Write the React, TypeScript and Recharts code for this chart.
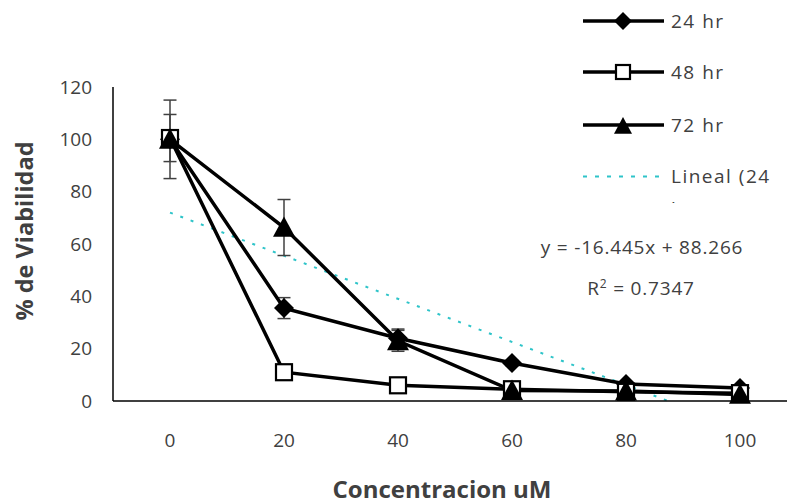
import React from "react";
import { LineChart, Line, XAxis, YAxis, ErrorBar } from "recharts";

const categories = ["0", "20", "40", "60", "80", "100"];
const yTicks = [0, 20, 40, 60, 80, 100, 120];
const h24 = [100, 35.5, 24, 14.5, 6.5, 5];
const h48 = [100.5, 11, 6, 4.5, 3.5, 3];
const h72 = [100, 66.3, 23, 4, 3.8, 2.5];
const err24 = [15, 4, 3.5, 1, 0.5, 0.5];
const err48 = [9, 1, 1.5, 0.5, 0.5, 0.5];
const err72 = [3, 10.7, 4, 0.5, 0.5, 0.5];
const trendX = [0, 4.37];
const trendY = [72, 0];
const seriesNames = ["24 hr", "48 hr", "72 hr", "Lineal (24 hr)"];
const equationText = "y = -16.445x + 88.266";
const r2Value = "0.7347";

const data = categories.map((c, i) => ({
  x: i,
  h24: h24[i],
  h48: h48[i],
  h72: h72[i],
  e24: err24[i],
  e48: err48[i],
  e72: err72[i],
}));
const trendData = trendX.map((x, i) => ({ x, t: trendY[i] }));

const FONT = "'Open Sans', 'Noto Sans', sans-serif";
const TEXT = "#404040";
const TEAL = "#2EC4C9";

const Diamond = (p: any) => {
  const { cx, cy } = p;
  if (cx == null || cy == null) return null;
  const r = p.size ?? 10;
  return (
    <polygon
      points={`${cx},${cy - r} ${cx + r},${cy} ${cx},${cy + r} ${cx - r},${cy}`}
      fill="#000"
    />
  );
};
const Square = (p: any) => {
  const { cx, cy } = p;
  if (cx == null || cy == null) return null;
  const s = p.size ?? 16;
  return (
    <rect x={cx - s / 2} y={cy - s / 2} width={s} height={s} fill="#fff" stroke="#000" strokeWidth={2.2} />
  );
};
const Triangle = (p: any) => {
  const { cx, cy } = p;
  if (cx == null || cy == null) return null;
  const w = p.size ?? 11;
  return (
    <polygon
      points={`${cx},${cy - w} ${cx + w},${cy + w * 0.85} ${cx - w},${cy + w * 0.85}`}
      fill="#000"
    />
  );
};

const legendText: React.CSSProperties = {
  position: "absolute",
  left: 88,
  top: 0,
  fontFamily: FONT,
  fontSize: 19,
  letterSpacing: 1.5,
  color: TEXT,
};

const LegendRow = ({ top, marker, label }: any) => (
  <div style={{ position: "absolute", left: 583, top: top - 15, height: 30, width: 204 }}>
    <svg width={82} height={30} style={{ position: "absolute", left: 0, top: 0 }}>
      <line x1={0} y1={15} x2={81} y2={15} stroke="#000" strokeWidth={3.5} />
      {marker === "diamond" && <Diamond cx={40} cy={15} size={9} />}
      {marker === "square" && <Square cx={40} cy={15} size={14} />}
      {marker === "triangle" && <Triangle cx={40} cy={16} size={9} />}
    </svg>
    <div style={{ ...legendText, lineHeight: "30px", whiteSpace: "nowrap" }}>{label}</div>
  </div>
);

export default function App() {
  return (
    <div
      style={{
        position: "fixed",
        left: 0,
        top: 0,
        width: 787,
        height: 501,
        overflow: "hidden",
        background: "#fff",
      }}
    >
      <LineChart width={800} height={501} data={data} margin={{ top: 87, right: 3, left: 0, bottom: 0 }}>
        <XAxis
          dataKey="x"
          type="number"
          domain={[-0.5, 5.5]}
          ticks={[0, 1, 2, 3, 4, 5]}
          tickFormatter={(v: number) => categories[v]}
          height={100}
          axisLine={{ stroke: "#000", strokeWidth: 1.5 }}
          tickLine={false}
          tickSize={30}
          tickMargin={3}
          tick={{ fill: TEXT, fontFamily: FONT, fontSize: 19 }}
        />
        <YAxis
          type="number"
          domain={[0, 120]}
          ticks={yTicks}
          width={113}
          axisLine={{ stroke: "#000", strokeWidth: 1.5 }}
          tickLine={false}
          tickSize={19}
          tickMargin={2}
          tick={{ fill: TEXT, fontFamily: FONT, fontSize: 19 }}
        />
        <Line
          data={trendData}
          dataKey="t"
          type="linear"
          stroke={TEAL}
          strokeWidth={2}
          strokeDasharray="3 8"
          dot={false}
          activeDot={false}
          isAnimationActive={false}
          legendType="none"
        />
        <Line dataKey="h24" type="linear" stroke="#000" strokeWidth={3.5} dot={<Diamond />} activeDot={false} isAnimationActive={false}>
          <ErrorBar dataKey="e24" direction="y" stroke={TEXT} strokeWidth={1.5} width={6.5} isAnimationActive={false} />
        </Line>
        <Line dataKey="h48" type="linear" stroke="#000" strokeWidth={3.5} dot={<Square />} activeDot={false} isAnimationActive={false}>
          <ErrorBar dataKey="e48" direction="y" stroke={TEXT} strokeWidth={1.5} width={6.5} isAnimationActive={false} />
        </Line>
        <Line dataKey="h72" type="linear" stroke="#000" strokeWidth={3.5} dot={<Triangle />} activeDot={false} isAnimationActive={false}>
          <ErrorBar dataKey="e72" direction="y" stroke={TEXT} strokeWidth={1.5} width={6.5} isAnimationActive={false} />
        </Line>
      </LineChart>

      {/* Y axis title */}
      <div
        style={{
          position: "absolute",
          left: 25,
          top: 231,
          transform: "translate(-50%, -50%) rotate(-90deg)",
          fontFamily: FONT,
          fontWeight: 700,
          fontSize: 23.5,
          lineHeight: 1,
          color: TEXT,
          whiteSpace: "nowrap",
        }}
      >
        % de Viabilidad
      </div>
      {/* X axis title */}
      <div
        style={{
          position: "absolute",
          left: 442,
          top: 477,
          transform: "translateX(-50%)",
          fontFamily: FONT,
          fontWeight: 700,
          fontSize: 24,
          lineHeight: "24px",
          color: TEXT,
          whiteSpace: "nowrap",
        }}
      >
        Concentracion uM
      </div>

      {/* Trendline equation */}
      <div
        style={{
          position: "absolute",
          left: 642,
          top: 247,
          transform: "translate(-50%, -50%)",
          fontFamily: FONT,
          fontSize: 19,
          letterSpacing: 0.8,
          lineHeight: 1,
          color: TEXT,
          whiteSpace: "nowrap",
        }}
      >
        {equationText}
      </div>
      <div
        style={{
          position: "absolute",
          left: 641,
          top: 288,
          transform: "translate(-50%, -50%)",
          fontFamily: FONT,
          fontSize: 19,
          letterSpacing: 0.8,
          lineHeight: 1,
          color: TEXT,
          whiteSpace: "nowrap",
        }}
      >
        R<sup style={{ fontSize: 12, verticalAlign: "0.55em", lineHeight: 0 }}>2</sup> = {r2Value}
      </div>

      {/* Legend (clipped like the original) */}
      <div style={{ position: "absolute", left: 0, top: 0, width: 787, height: 203, overflow: "hidden" }}>
        <LegendRow top={21} marker="diamond" label={seriesNames[0]} />
        <LegendRow top={72} marker="square" label={seriesNames[1]} />
        <LegendRow top={125} marker="triangle" label={seriesNames[2]} />
        <div style={{ position: "absolute", left: 583, top: 159.5, width: 204 }}>
          <svg width={82} height={33} style={{ position: "absolute", left: 0, top: 0 }}>
            <line x1={0} y1={16.5} x2={80} y2={16.5} stroke={TEAL} strokeWidth={2} strokeDasharray="4 8" />
          </svg>
          <div style={{ ...legendText, width: 112, lineHeight: "33px" }}>{seriesNames[3]}</div>
        </div>
      </div>
    </div>
  );
}
